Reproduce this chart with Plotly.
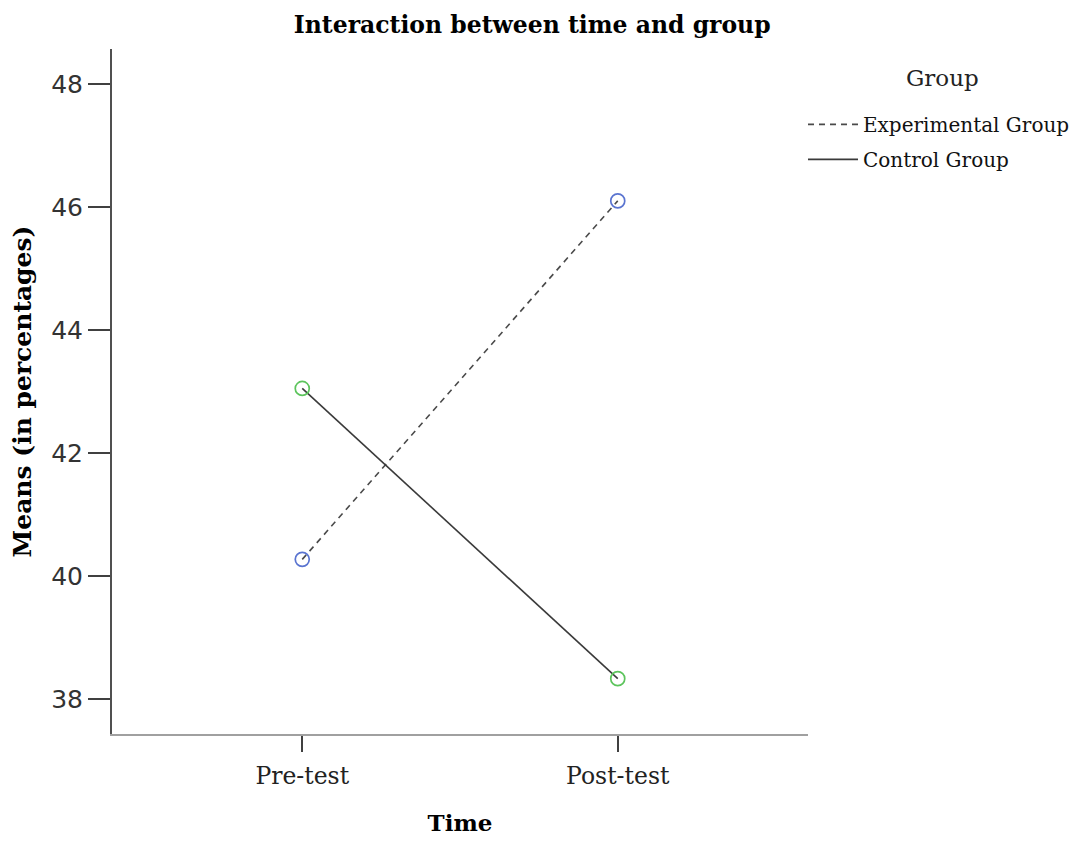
import plotly.graph_objects as go

times = ["Pre-test", "Post-test"]
experimental = [40.27, 46.1]
control = [43.05, 38.33]
y_ticks = [38, 40, 42, 44, 46, 48]

SERIF = "DejaVu Serif"
SANS = "DejaVu Sans"

fig = go.Figure()
fig.add_trace(go.Scatter(x=[0, 1], y=experimental, mode="lines", name="Experimental Group",
                         legendgroup="e", line=dict(color="#4a4a4a", width=1.6, dash="6px,5px"),
                         hoverinfo="skip"))
fig.add_trace(go.Scatter(x=[0, 1], y=control, mode="lines", name="Control Group",
                         legendgroup="c", line=dict(color="#3a3a3a", width=1.6), hoverinfo="skip"))
fig.add_trace(go.Scatter(x=[0, 1], y=experimental, mode="markers", showlegend=False,
                         marker=dict(symbol="circle-open", size=14, color="#5a74d0", line=dict(width=1.7))))
fig.add_trace(go.Scatter(x=[0, 1], y=control, mode="markers", showlegend=False,
                         marker=dict(symbol="circle-open", size=14, color="#5cc45c", line=dict(width=1.7))))

fig.add_annotation(text="Group", xref="paper", yref="paper", x=1.193, y=0.9577,
                   xanchor="center", yanchor="middle", showarrow=False,
                   font=dict(family=SERIF, size=23, color="#222"))

fig.update_layout(
    width=1072, height=835,
    margin=dict(l=104, r=272, t=41, b=109, autoexpand=False),
    paper_bgcolor="white", plot_bgcolor="white",
    title=dict(text="<b>Interaction between time and group</b>", x=0.489, xanchor="center",
               y=0.9796, yanchor="middle", font=dict(family=SERIF, size=23.5, color="black")),
    xaxis=dict(range=[-0.603, 1.603], tickvals=[0, 1], ticktext=times, showgrid=False,
               zeroline=False, showline=True, linecolor="#a0a0a0", linewidth=2,
               ticks="outside", ticklen=16, tickwidth=2, tickcolor="#404040",
               ticklabelstandoff=4,
               tickfont=dict(family=SERIF, size=23.5, color="#222"),
               title=dict(text="<b>Time</b>", font=dict(family=SERIF, size=23, color="black"), standoff=26)),
    yaxis=dict(range=[37.43, 48.57], tickvals=y_ticks, showgrid=False, zeroline=False,
               showline=True, linecolor="#505050", linewidth=2,
               ticks="outside", ticklen=22, tickwidth=2, tickcolor="#404040",
               tickfont=dict(family=SANS, size=25, color="#333"),
               title=dict(text="<b>Means (in percentages)</b>", font=dict(family=SERIF, size=25, color="black"), standoff=14)),
    legend=dict(xref="container", yref="container", x=0.7416, xanchor="left", y=0.884, yanchor="top",
                bgcolor="rgba(0,0,0,0)",
                font=dict(family=SERIF, size=20, color="#111"), itemwidth=50, tracegroupgap=6,
                traceorder="grouped"),
    showlegend=True,
)

fig.write_html("out.html")
